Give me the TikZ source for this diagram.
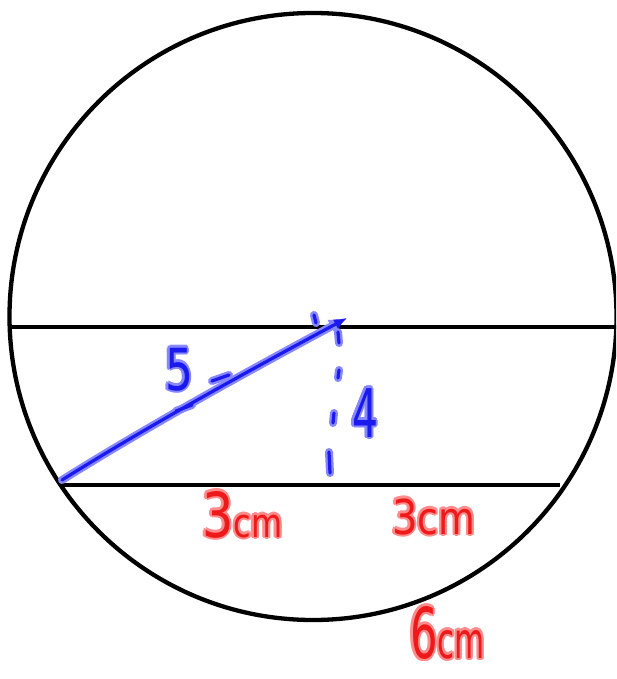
\documentclass[tikz,border=0pt]{standalone}
\usepackage{fontspec}
\setmainfont{DejaVu Sans}
\usepackage{graphicx}
\usetikzlibrary{arrows.meta,calc}
\definecolor{inkblue}{RGB}{25,25,240}
\definecolor{glowblue}{RGB}{135,135,255}
\definecolor{inkred}{RGB}{238,25,25}
\definecolor{glowred}{RGB}{255,140,140}
\newcommand{\fsz}[1]{\fontsize{#1}{#1}\selectfont}
\newcommand{\glowlab}[5]{%
  \foreach \ang in {0,30,...,330}{
    \node[handlab,text=#4] (#1-g\ang) at ($(#2)+(\ang:2.3)$) {#5};}
  \node[handlab,text=#3] (#1) at (#2) {#5};}
\tikzset{
  handlab/.style={inner sep=0pt,outer sep=0pt,anchor=base west},
  blackline/.style={draw=black,line width=4.3pt},
  glowb/.style={draw=glowblue,line width=8pt,line cap=round,line join=round},
  coreb/.style={draw=inkblue,line width=3.2pt,line cap=round,line join=round}
}
\newcommand{\bluework}[3]{%
  \draw[#1,-{Latex[length=#2,width=#3]}] (A) .. controls (150,425) and (250,370) .. (O);
  \draw[#1] (t1a) -- (t1b);
  \draw[#1] (t2a) -- (t2b);
  \draw[#1] (d1a) -- (d1b);
  \draw[#1] (d2a) -- (d2b);
  \draw[#1] (d3a) -- (d3b);
  \draw[#1] (d4a) -- (d4b);
  \draw[#1] (d5a) -- (d5b);
}
\begin{document}
\begin{tikzpicture}[x=1pt,y=-1pt]
  \useasboundingbox (0,0) rectangle (616,679);
  \fill[white] (0,0) rectangle (616,679);
  \clip (0,0) rectangle (616,679);
  % geometry
  \coordinate (C) at (313,316.5);
  \coordinate (DL) at (8,327);
  \coordinate (DR) at (620,327);
  \coordinate (CL) at (60,485);
  \coordinate (CR) at (560,485);
  \coordinate (A) at (62,480);
  \coordinate (O) at (347,318);
  \coordinate (t1a) at (176,411); \coordinate (t1b) at (192,405);
  \coordinate (t2a) at (212,381); \coordinate (t2b) at (229,375);
  \coordinate (d1a) at (314,315); \coordinate (d1b) at (316,323);
  \coordinate (d2a) at (338,332); \coordinate (d2b) at (339,343);
  \coordinate (d3a) at (339,370); \coordinate (d3b) at (338,378);
  \coordinate (d4a) at (334,413); \coordinate (d4b) at (333,423);
  \coordinate (d5a) at (329,452); \coordinate (d5b) at (330,473);
  % black figure
  \draw[blackline] (C) circle[radius=303.5pt];
  \draw[blackline] (DL) -- (DR);
  \draw[blackline] (CL) -- (CR);
  % blue strokes
  \bluework{glowb}{18pt}{16pt}
  \bluework{coreb}{13pt}{11pt}
  % labels
  \coordinate (p5) at (165,390);
  \coordinate (p4) at (352,437);
  \coordinate (p3L) at (202,537);
  \coordinate (p3R) at (392,534);
  \coordinate (p6) at (410,658);
  \glowlab{five}{p5}{inkblue}{glowblue}{\scalebox{0.76}[1]{\fsz{58}5}}
  \glowlab{four}{p4}{inkblue}{glowblue}{\scalebox{0.61}[1]{\fsz{67}4}}
  \glowlab{threeL}{p3L}{inkred}{glowred}{\scalebox{0.8}[1]{\fsz{62}3\fsz{40}cm}}
  \glowlab{threeR}{p3R}{inkred}{glowred}{\scalebox{0.84}[1]{\fsz{48}3\fsz{45}cm}}
  \glowlab{six}{p6}{inkred}{glowred}{\scalebox{0.62}[1]{\fsz{70}6\fsz{50}cm}}
\end{tikzpicture}
\end{document}
